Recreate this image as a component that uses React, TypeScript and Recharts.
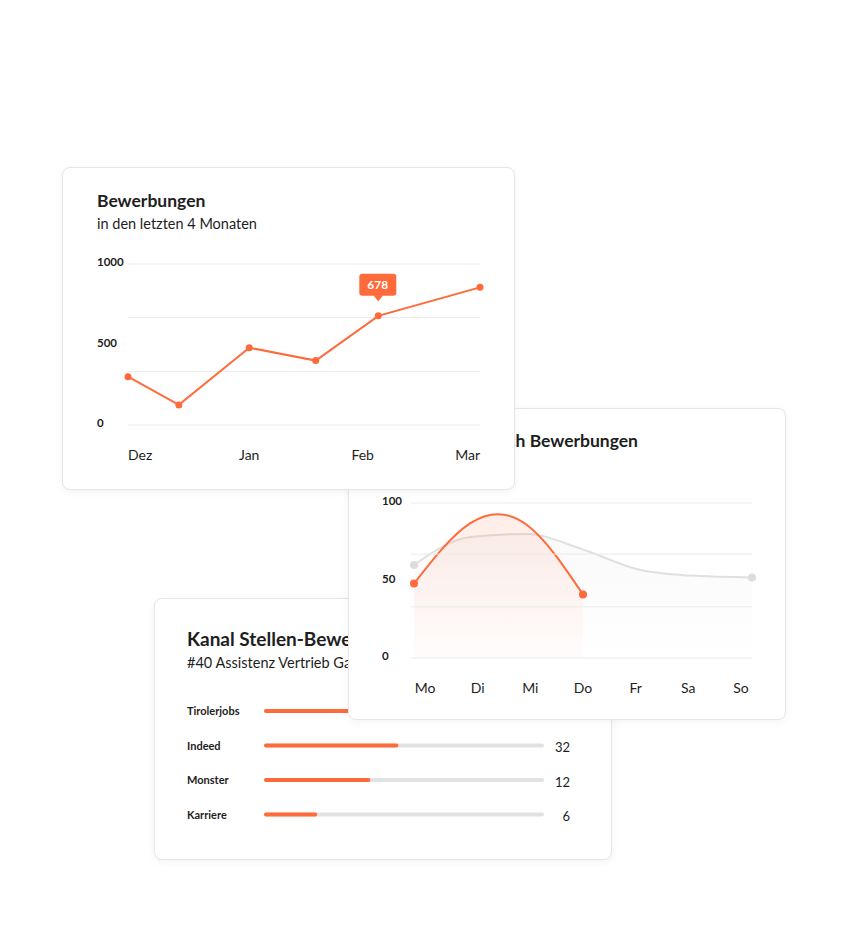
import React from "react";
import {
  LineChart,
  Line,
  AreaChart,
  Area,
  BarChart,
  Bar,
  XAxis,
  YAxis,
  ReferenceLine,
} from "recharts";

const ORANGE = "#FF6A3A";
const GRID = "#EBEBEB";
const TEXT = "#1E1E1E";
const FONT = 'Lato, "Noto Sans", sans-serif';

// Bewerbungen, letzte 4 Monate (x = Tage seit 1. Dez)
const monthNames = ["Dez", "Jan", "Feb", "Mar"];
const monthTicks = [0, 31, 60, 90];
const applicationDays = [0, 13, 31, 48, 64, 90];
const applicationCounts = [300, 125, 480, 400, 678, 855];
const applicationTicks = [0, 500, 1000];
const applicationGrid = [0, 333, 667, 1000];
const highlightIndex = 4;

// Woche
const weekDays = ["Mo", "Di", "Mi", "Do", "Fr", "Sa", "So"];
const thisWeek = [48, 87, 86, 41];
const weekAverage = [60, 78, 80, 70, 57, 53, 52];
const weekTicks = [0, 50, 100];
const weekGrid = [0, 33, 67, 100];

// Kanäle
const channels = ["Tirolerjobs", "Indeed", "Monster", "Karriere"];
const channelShare = [70, 48, 38, 19];
const channelCounts = [54, 32, 12, 6];

const appData = applicationDays.map((day, i) => ({ day, value: applicationCounts[i] }));
const weekData = weekDays.map((day, i) => ({
  day,
  current: i < thisWeek.length ? thisWeek[i] : null,
  average: weekAverage[i],
}));
const channelData = channels.map((channel, i) => ({
  channel,
  share: channelShare[i],
  count: channelCounts[i],
}));

function Card({ left, top, width, height, children }: any) {
  return (
    <div
      style={{
        position: "absolute",
        left,
        top,
        width,
        height,
        boxSizing: "border-box",
        border: "1px solid #E6E6E6",
        borderRadius: 8,
        background: "#fff",
        boxShadow: "0 2px 8px rgba(0,0,0,0.05)",
      }}
    >
      {children}
    </div>
  );
}

function ValueTick(props: any) {
  const { y, payload } = props;
  return (
    <text x={0} y={y - 2} dy="0.35em" textAnchor="start" fontSize={11.5} fontWeight={700} fill={TEXT} fontFamily={FONT}>
      {payload.value}
    </text>
  );
}

function MonthTick(props: any) {
  const { x, y, index } = props;
  const anchor = index === 0 ? "start" : index === monthTicks.length - 1 ? "end" : "middle";
  return (
    <text x={x} y={y} dy="0.71em" textAnchor={anchor} fontSize={14} fill={TEXT} fontFamily={FONT}>
      {monthNames[index]}
    </text>
  );
}

function DayTick(props: any) {
  const { x, y, payload } = props;
  return (
    <text x={x} y={y} dy="0.71em" textAnchor="middle" fontSize={14} fill={TEXT} fontFamily={FONT}>
      {payload.value}
    </text>
  );
}

function ChannelTick(props: any) {
  const { y, payload } = props;
  return (
    <text x={0} y={y} dy="0.35em" textAnchor="start" fontSize={11} fontWeight={700} fill={TEXT} fontFamily={FONT}>
      {payload.value}
    </text>
  );
}

function CountTick(props: any) {
  const { x, y, index } = props;
  return (
    <text x={x + 26} y={y + 2} dy="0.35em" textAnchor="end" fontSize={13} fill={TEXT} fontFamily={FONT}>
      {channelData[index].count}
    </text>
  );
}

function ApplicationDot(props: any) {
  const { cx, cy, index, payload } = props;
  return (
    <g key={`dot-${index}`}>
      <circle cx={cx} cy={cy} r={3.5} fill={ORANGE} />
      {index === highlightIndex && (
        <g>
          <rect x={cx - 19} y={cy - 42} width={37} height={22} rx={3} fill={ORANGE} />
          <path d={`M${cx - 5},${cy - 20.5} L${cx},${cy - 14.5} L${cx + 5},${cy - 20.5} Z`} fill={ORANGE} />
          <text x={cx - 0.5} y={cy - 31} dy="0.35em" textAnchor="middle" fontSize={12} fontWeight={700} fill="#fff" fontFamily={FONT}>
            {payload.value}
          </text>
        </g>
      )}
    </g>
  );
}

function endDots(color: string, last: number) {
  return (props: any) => {
    const { cx, cy, index } = props;
    if ((index !== 0 && index !== last) || cy == null) return <g key={`e-${index}`} />;
    return <circle key={`e-${index}`} cx={cx} cy={cy} r={4} fill={color} />;
  };
}

const titleStyle: React.CSSProperties = {
  position: "absolute",
  fontSize: 17.5,
  lineHeight: "22px",
  fontWeight: 700,
  color: TEXT,
  whiteSpace: "nowrap",
};
const subStyle: React.CSSProperties = {
  position: "absolute",
  fontSize: 14.5,
  lineHeight: "18px",
  color: TEXT,
  whiteSpace: "nowrap",
};

export default function App() {
  return (
    <div
      style={{
        position: "absolute",
        left: 0,
        top: 0,
        width: 847,
        height: 947,
        background: "#fff",
        fontFamily: FONT,
        overflow: "hidden",
      }}
    >
      {/* Kanal */}
      <Card left={154} top={598} width={458} height={262}>
        <div style={{ ...titleStyle, fontSize: 19, left: 32, top: 29.3 }}>Kanal Stellen-Bewerbungen</div>
        <div style={{ ...subStyle, left: 32, top: 54.7 }}>#40 Assistenz Vertrieb Gastro</div>
        <div style={{ position: "absolute", left: 32, top: 85 }}>
          <BarChart
            layout="vertical"
            width={400}
            height={150}
            data={channelData}
            margin={{ top: 10, right: 0, left: 0, bottom: 2 }}
          >
            <XAxis type="number" domain={[0, 100]} hide />
            <YAxis
              yAxisId="name"
              type="category"
              dataKey="channel"
              width={77}
              axisLine={false}
              tickLine={false}
              tick={<ChannelTick />}
            />
            <YAxis
              yAxisId="count"
              type="category"
              dataKey="channel"
              orientation="right"
              width={43}
              axisLine={false}
              tickLine={false}
              tickSize={0}
              tickMargin={0}
              tick={<CountTick />}
            />
            <Bar
              yAxisId="name"
              dataKey="share"
              fill={ORANGE}
              barSize={4}
              radius={2}
              background={{ fill: "#E2E2E2", radius: 2 }}
              isAnimationActive={false}
            />
          </BarChart>
        </div>
      </Card>

      {/* Woche */}
      <Card left={348} top={408} width={438} height={312}>
        <div style={{ ...titleStyle, right: 147, top: 21.4 }}>Durchschnittlich Bewerbungen</div>
        <div style={{ position: "absolute", left: 33, top: 81 }}>
          <AreaChart width={380} height={213} data={weekData} margin={{ top: 13, right: 10, left: 0, bottom: 0 }}>
            <defs>
              <linearGradient id="gradCurrent" x1="0" y1="0" x2="0" y2="1">
                <stop offset="0%" stopColor={ORANGE} stopOpacity={0.2} />
                <stop offset="100%" stopColor={ORANGE} stopOpacity={0.02} />
              </linearGradient>
              <linearGradient id="gradAverage" x1="0" y1="0" x2="0" y2="1">
                <stop offset="0%" stopColor="#D0D0D0" stopOpacity={0.18} />
                <stop offset="100%" stopColor="#D0D0D0" stopOpacity={0.01} />
              </linearGradient>
            </defs>
            {weekGrid.map((v) => (
              <ReferenceLine key={v} xAxisId="data" y={v} stroke={GRID} strokeWidth={1} />
            ))}
            <XAxis
              xAxisId="labels"
              dataKey="day"
              padding={{ left: 14, right: 11 }}
              axisLine={false}
              tickLine={false}
              tickSize={0}
              tickMargin={25}
              height={45}
              interval={0}
              tick={<DayTick />}
            />
            <XAxis xAxisId="data" dataKey="day" hide height={0} padding={{ left: 3, right: 0 }} />
            <YAxis domain={[0, 100]} ticks={weekTicks} width={29} axisLine={false} tickLine={false} tick={<ValueTick />} />
            <Area
              xAxisId="data"
              type="monotone"
              dataKey="average"
              stroke="#E0E0E0"
              strokeWidth={2}
              fill="url(#gradAverage)"
              dot={endDots("#DCDCDC", weekDays.length - 1)}
              activeDot={false}
              isAnimationActive={false}
            />
            <Area
              xAxisId="data"
              type="natural"
              dataKey="current"
              stroke={ORANGE}
              strokeWidth={2}
              fill="url(#gradCurrent)"
              dot={endDots(ORANGE, thisWeek.length - 1)}
              activeDot={false}
              isAnimationActive={false}
            />
          </AreaChart>
        </div>
      </Card>

      {/* Bewerbungen */}
      <Card left={62} top={167} width={453} height={323}>
        <div style={{ ...titleStyle, left: 34, top: 22.1 }}>Bewerbungen</div>
        <div style={{ ...subStyle, left: 34, top: 46.6 }}>in den letzten 4 Monaten</div>
        <div style={{ position: "absolute", left: 34, top: 82 }}>
          <LineChart width={392} height={220} data={appData} margin={{ top: 14, right: 9, left: 0, bottom: 0 }}>
            {applicationGrid.map((v) => (
              <ReferenceLine key={v} y={v} stroke={GRID} strokeWidth={1} />
            ))}
            <XAxis
              dataKey="day"
              type="number"
              domain={[0, 90]}
              ticks={monthTicks}
              interval={0}
              axisLine={false}
              tickLine={false}
              tickSize={0}
              tickMargin={25}
              height={45}
              tick={<MonthTick />}
            />
            <YAxis
              domain={[0, 1000]}
              ticks={applicationTicks}
              width={31}
              axisLine={false}
              tickLine={false}
              tick={<ValueTick />}
            />
            <Line
              dataKey="value"
              stroke={ORANGE}
              strokeWidth={2}
              dot={ApplicationDot}
              activeDot={false}
              isAnimationActive={false}
            />
          </LineChart>
        </div>
      </Card>
    </div>
  );
}
